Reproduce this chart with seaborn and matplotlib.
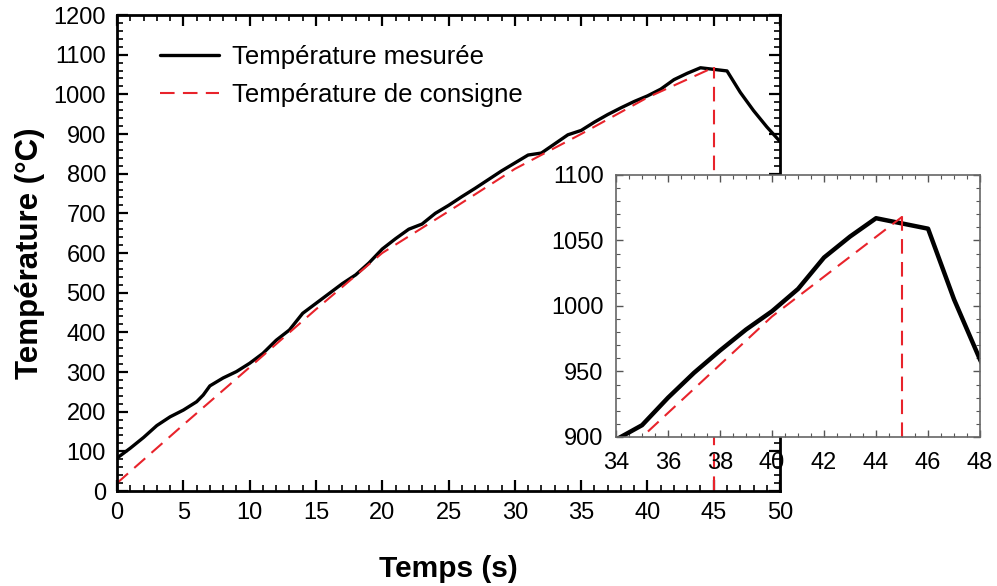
import matplotlib
matplotlib.use("Agg")
import matplotlib.pyplot as plt
import seaborn as sns
import pandas as pd
from matplotlib.ticker import MultipleLocator

# ---- data ----
t_mesure = [0, 1, 2, 3, 4, 5, 6, 6.5, 7, 8, 9, 10, 11, 12, 13, 14, 15, 16, 17, 18,
            19, 20, 21, 22, 23, 24, 25, 26, 27, 28, 29, 30, 31, 32, 33, 34, 35, 36,
            37, 38, 39, 40, 41, 42, 43, 44, 45, 46, 47, 48, 49, 50]
T_mesure = [83, 108, 135, 165, 187, 204, 225, 242, 265, 285, 301, 322, 347, 380, 406,
            448, 473, 498, 523, 545, 575, 610, 636, 660, 673, 700, 720, 742, 763, 785,
            807, 827, 847, 852, 875, 898, 909, 930, 949, 966, 982, 996, 1013, 1037,
            1053, 1067, 1063, 1059, 1005, 959, 918, 881]
t_consigne = [0, 5, 10, 15, 20, 25, 30, 35, 40, 45]
T_consigne = [20, 167, 312, 458, 600, 705, 812, 900, 992, 1068]
t_fin = [45, 45]
T_fin_main = [0, 1068]
T_fin_inset = [900, 1070]

label_mes = "Température mesurée"
label_cons = "Température de consigne"

df_m = pd.DataFrame({"t": t_mesure, "T": T_mesure})
df_c = pd.DataFrame({"t": t_consigne, "T": T_consigne})

sns.set_theme(style="white")
plt.rcParams["font.family"] = ["Liberation Sans", "DejaVu Sans"]
plt.rcParams["text.color"] = "black"
plt.rcParams["axes.labelcolor"] = "black"
plt.rcParams["xtick.color"] = "black"
plt.rcParams["ytick.color"] = "black"

red = "#e8232b"
fig = plt.figure(figsize=(9.97, 5.86), dpi=100)
ax = fig.add_axes([0.1174, 0.1621, 0.665, 0.8123])

sns.lineplot(data=df_m, x="t", y="T", ax=ax, color="black", lw=2.4, label=label_mes)
sns.lineplot(data=df_c, x="t", y="T", ax=ax, color=red, lw=1.5, label=label_cons)
ax.lines[1].set_dashes([7, 4])
ax.plot(t_fin, T_fin_main, color=red, lw=1.5, dashes=[7, 4])

ax.set_xlim(0, 50)
ax.set_ylim(0, 1200)
ax.xaxis.set_major_locator(MultipleLocator(5))
ax.xaxis.set_minor_locator(MultipleLocator(1))
ax.yaxis.set_major_locator(MultipleLocator(100))
ax.yaxis.set_minor_locator(MultipleLocator(20))
ax.tick_params(which="both", direction="in", top=True, right=True,
               bottom=True, left=True, colors="black", labelsize=17, pad=8)
ax.tick_params(which="major", length=8, width=1.6)
ax.tick_params(which="minor", length=4, width=1.2)
for s in ax.spines.values():
    s.set_color("black")
    s.set_linewidth(2)
ax.set_xlabel("Temps (s)", fontsize=21.5, fontweight="bold", labelpad=22)
ax.set_ylabel("Température (°C)", fontsize=22.5, fontweight="bold", labelpad=6)
leg = ax.legend(loc="upper left", frameon=False, fontsize=18.5, handlelength=2.3,
                handletextpad=0.5, bbox_to_anchor=(0.03, 0.985), labelspacing=0.55)
leg.get_lines()[1].set_dashes([7, 4])

# ---- inset ----
axi = fig.add_axes([0.6179, 0.2543, 0.3651, 0.4471])
axi.set_facecolor("white")
sns.lineplot(data=df_m, x="t", y="T", ax=axi, color="black", lw=3.2, legend=False)
sns.lineplot(data=df_c, x="t", y="T", ax=axi, color=red, lw=1.5, legend=False)
axi.lines[1].set_dashes([7, 4])
axi.plot(t_fin, T_fin_inset, color=red, lw=1.5, dashes=[7, 4])
axi.set_xlim(34, 48)
axi.set_ylim(900, 1100)
axi.xaxis.set_major_locator(MultipleLocator(2))
axi.xaxis.set_minor_locator(MultipleLocator(0.5))
axi.yaxis.set_major_locator(MultipleLocator(50))
axi.yaxis.set_minor_locator(MultipleLocator(10))
axi.tick_params(which="both", direction="in", top=True, right=True,
                bottom=True, left=True, color="#555555", labelcolor="black",
                labelsize=17)
axi.tick_params(axis="x", pad=11)
axi.tick_params(axis="y", pad=9)
axi.tick_params(which="major", length=5, width=1.0)
axi.tick_params(which="minor", length=3, width=0.8)
for s in axi.spines.values():
    s.set_color("#666666")
    s.set_linewidth(1.2)
axi.set_xlabel("")
axi.set_ylabel("")

fig.savefig("out.png", dpi=100)
